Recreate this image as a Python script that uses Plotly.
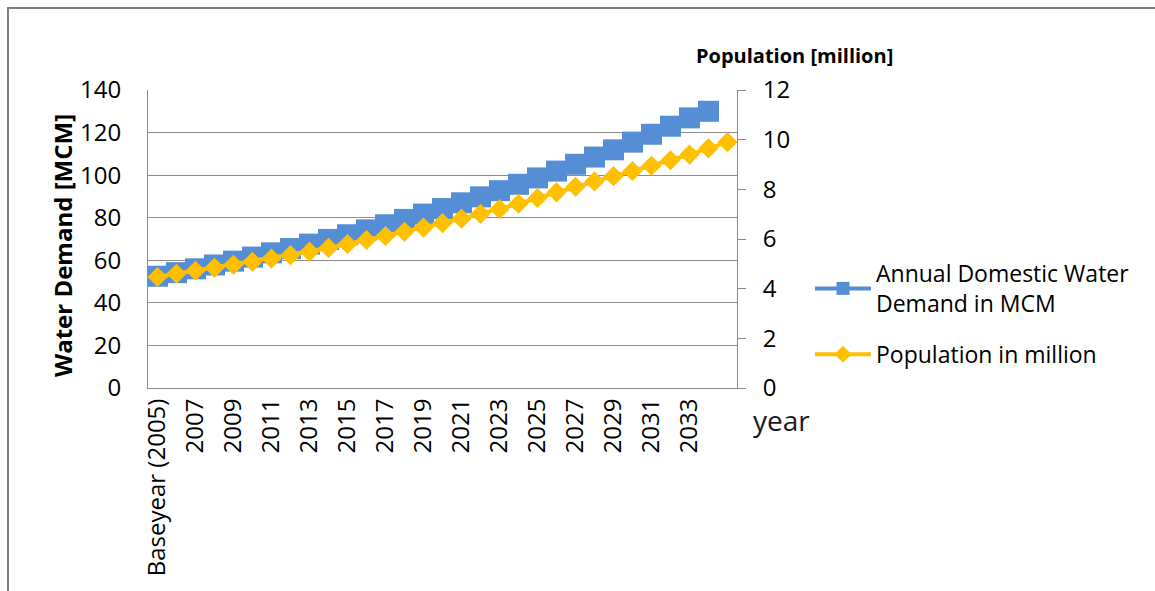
import plotly.graph_objects as go

# ---- data ----
categories = ["Baseyear (2005)"] + [str(y) for y in range(2006, 2036)]
tick_labels = ["Baseyear (2005)", "2007", "2009", "2011", "2013", "2015", "2017",
               "2019", "2021", "2023", "2025", "2027", "2029", "2031", "2033"]
water_demand = [52.5, 54.2, 56.0, 57.8, 59.6, 61.5, 63.5, 65.5, 67.6, 69.8,
                72.0, 74.3, 76.7, 79.2, 81.7, 84.3, 87.0, 89.8, 92.7, 95.7,
                98.7, 101.9, 105.1, 108.5, 111.9, 115.5, 119.2, 123.0, 126.9, 130.0]
population = [4.47, 4.60, 4.72, 4.84, 4.96, 5.08, 5.21, 5.35, 5.49, 5.64,
              5.80, 5.96, 6.12, 6.29, 6.46, 6.64, 6.82, 7.01, 7.20, 7.42,
              7.65, 7.88, 8.10, 8.32, 8.53, 8.74, 8.95, 9.17, 9.40, 9.65, 9.90]

BLUE = "#558ED5"
YELLOW = "#FFC000"
GRID = "#8C8C8C"
FONT = "Open Sans"

W, H = 1155, 591
L, R, T, B = 148, 737, 90, 388

fig = go.Figure()

fig.add_trace(go.Scatter(
    x=categories[:len(water_demand)], y=water_demand, mode="lines+markers",
    line=dict(color=BLUE, width=4),
    marker=dict(symbol="square", size=21, color=BLUE),
    showlegend=False, yaxis="y"))
fig.add_trace(go.Scatter(
    x=categories[:len(population)], y=population, mode="lines+markers",
    line=dict(color=YELLOW, width=4),
    marker=dict(symbol="diamond", size=15.5, color=YELLOW),
    showlegend=False, yaxis="y2"))

# legend entries
fig.add_trace(go.Scatter(
    x=[None], y=[None], mode="lines+markers",
    name="Annual Domestic Water<br>Demand in MCM", legendgroup="a",
    line=dict(color=BLUE, width=4),
    marker=dict(symbol="square", size=13, color=BLUE)))
fig.add_trace(go.Scatter(
    x=[None], y=[None], mode="lines+markers",
    name="Population in million", legendgroup="b",
    line=dict(color=YELLOW, width=4),
    marker=dict(symbol="diamond", size=13, color=YELLOW), yaxis="y2"))

def px_x(p):
    return (p - L) / (R - L)

def px_y(p):
    return (B - p) / (B - T)

fig.update_layout(
    width=W, height=H,
    margin=dict(l=L, r=W - R, t=T, b=H - B),
    paper_bgcolor="white", plot_bgcolor="white",
    font=dict(family=FONT, size=24, color="#000000"),
    xaxis=dict(
        type="category", categoryorder="array", categoryarray=categories,
        range=[-0.5, len(categories) - 0.5],
        tickmode="array", tickvals=tick_labels, ticktext=tick_labels,
        tickangle=-90, tickfont=dict(size=24, color="#000000", family=FONT),
        showgrid=False, showline=True, linecolor=GRID, linewidth=1,
        ticks="", zeroline=False),
    yaxis=dict(
        range=[0, 140], tickvals=list(range(0, 141, 20)),
        showgrid=True, gridcolor=GRID, gridwidth=1,
        showline=True, linecolor=GRID, linewidth=1,
        ticks="", ticklabelstandoff=21,
        tickfont=dict(size=24, color="#000000", family=FONT), zeroline=False),
    yaxis2=dict(
        range=[0, 12], tickvals=list(range(0, 13, 2)),
        overlaying="y", side="right",
        showgrid=False, showline=True, linecolor=GRID, linewidth=1,
        ticks="outside", ticklen=8, tickcolor=GRID, ticklabelstandoff=12,
        tickfont=dict(size=24, color="#000000", family=FONT), zeroline=False),
    legend=dict(
        xref="container", yref="container",
        x=810 / W, y=1 - 252 / H, xanchor="left", yanchor="top",
        font=dict(size=23, color="#000000", family=FONT),
        bgcolor="rgba(0,0,0,0)", itemwidth=56, tracegroupgap=18,
        traceorder="grouped"),
    annotations=[
        dict(text="<b>Water Demand [MCM]</b>", textangle=-90,
             xref="paper", yref="paper", x=px_x(62), y=px_y(246),
             xanchor="center", yanchor="middle", showarrow=False,
             font=dict(size=24, family=FONT, color="#000000")),
        dict(text="<b>Population [million]</b>",
             xref="paper", yref="paper", x=px_x(794), y=px_y(55),
             xanchor="center", yanchor="middle", showarrow=False,
             font=dict(size=20, family=FONT, color="#000000")),
        dict(text="year",
             xref="paper", yref="paper", x=px_x(781), y=px_y(420),
             xanchor="center", yanchor="middle", showarrow=False,
             font=dict(size=28, family=FONT, color="#1a1a1a")),
    ],
    shapes=[
        dict(type="rect", xref="paper", yref="paper",
             x0=px_x(8), x1=px_x(1170), y0=px_y(610), y1=px_y(8),
             line=dict(color="#7F7F7F", width=2), fillcolor="rgba(0,0,0,0)",
             layer="below"),
    ],
)

fig.write_html("out.html")
